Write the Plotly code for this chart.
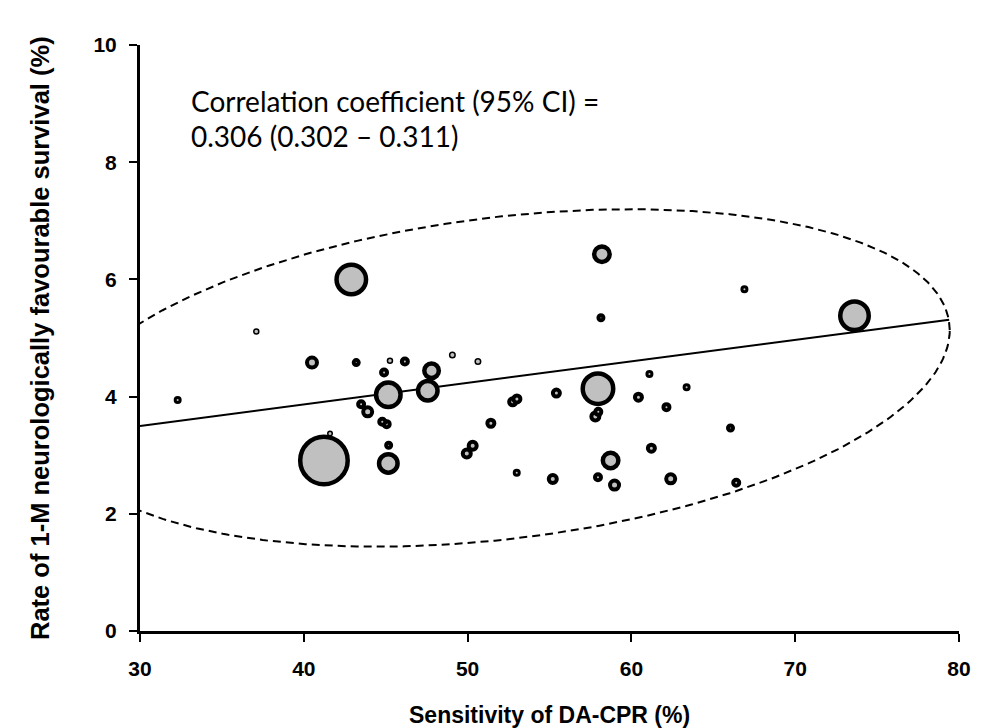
import numpy as np
import plotly.graph_objects as go

# ---- data ----
sensitivity = [32.3, 37.1, 40.5, 43.2, 45.26, 46.17, 44.9, 47.8, 45.16, 47.57,
               43.5, 43.9, 44.79, 45.06, 45.18, 45.16, 41.6, 41.23, 58.14, 49.07,
               50.63, 57.96, 61.1, 63.37, 52.75, 53.01, 55.42, 60.43, 62.14, 57.8,
               57.98, 51.42, 50.31, 49.95, 58.73, 61.22, 53.0, 55.2, 57.96, 58.97,
               62.4, 66.9, 73.62, 66.05, 66.4, 42.9, 58.2]
survival = [3.94, 5.11, 4.58, 4.58, 4.61, 4.60, 4.41, 4.44, 4.03, 4.10,
            3.87, 3.74, 3.57, 3.53, 3.17, 2.86, 3.37, 2.91, 5.345, 4.71,
            4.60, 4.135, 4.385, 4.16, 3.91, 3.96, 4.06, 3.99, 3.82, 3.66,
            3.74, 3.545, 3.16, 3.03, 2.91, 3.12, 2.70, 2.595, 2.625, 2.49,
            2.596, 5.83, 5.38, 3.465, 2.53, 6.0, 6.43]
bubble_size = [8, 6.5, 14, 9, 6.5, 10, 10, 19, 29, 24,
               10, 13, 10, 10, 9, 23, 6, 52, 9, 7,
               7, 35, 8, 8, 11, 11, 11, 11, 10, 12,
               10, 11, 12, 12, 20, 11, 8, 12, 10, 13,
               13, 8, 33, 9, 10, 34, 20]

x_ticks = [30, 40, 50, 60, 70, 80]
y_ticks = [0, 2, 4, 6, 8, 10]

# regression line (value at x=30, slope) and its end
reg_x = [30, 79.4]
reg_intercept = 3.50
reg_slope = 0.0367

# confidence ellipse parameters
ell_cx, ell_ax = 52.2, 27.235
ell_cy, ell_p, ell_q = 4.318, 0.817, 2.761

corr_line1 = "Correlation coefficient (95% CI) ="
corr_line2 = "0.306 (0.302 \u2013 0.311)"

# ---- styling derived ----
def line_w(d):
    if d <= 7:
        return 1.5
    if d <= 8.5:
        return 3
    if d < 18:
        return 4
    return 4.5

lws = [line_w(d) for d in bubble_size]
msz = [d - w for d, w in zip(bubble_size, lws)]

fig = go.Figure()

t = np.linspace(0, 2 * np.pi, 400)
ex = ell_cx + ell_ax * np.cos(t)
ey = ell_cy + ell_p * np.cos(t) + ell_q * np.sin(t)
fig.add_trace(go.Scatter(x=ex, y=ey, mode="lines",
                         line=dict(color="black", width=2, dash="8px,5px"),
                         hoverinfo="skip", showlegend=False))

reg_y = [reg_intercept + reg_slope * (xx - 30) for xx in reg_x]
fig.add_trace(go.Scatter(x=reg_x, y=reg_y, mode="lines",
                         line=dict(color="black", width=2),
                         showlegend=False))

order = np.argsort(bubble_size)[::-1]
fig.add_trace(go.Scatter(
    x=[sensitivity[i] for i in order], y=[survival[i] for i in order],
    mode="markers",
    marker=dict(size=[msz[i] for i in order], color="#C0C0C0",
                line=dict(color="black", width=[lws[i] for i in order]),
                opacity=1),
    showlegend=False, cliponaxis=False))

fig.add_annotation(x=(190 - 140) / 828, y=1.0 - (101 - 45) / 586, xref="paper", yref="paper",
                   text=corr_line1,
                   showarrow=False, xanchor="left", yanchor="middle",
                   font=dict(family="Lato", size=28, color="black"))
fig.add_annotation(x=(190 - 140) / 828, y=1.0 - (136 - 45) / 586, xref="paper", yref="paper",
                   text=corr_line2,
                   showarrow=False, xanchor="left", yanchor="middle",
                   font=dict(family="Lato", size=28, color="black"))

fig.add_annotation(x=0.5, y=0, xref="paper", yref="paper",
                   text="<b>Sensitivity of DA-CPR (%)</b>", showarrow=False,
                   yshift=-84, yanchor="middle", xanchor="center",
                   font=dict(family="Liberation Sans", size=23, color="black"))
fig.add_annotation(x=0, y=0.5, xref="paper", yref="paper",
                   text="<b>Rate of 1-M neurologically favourable survival (%)</b>",
                   showarrow=False, textangle=-90, xshift=-100,
                   xanchor="center", yanchor="middle",
                   font=dict(family="Liberation Sans", size=25.5, color="black"))

axis_common = dict(showgrid=False, zeroline=False, showline=True, linecolor="black",
                   linewidth=3, ticks="outside", ticklen=8, tickwidth=2,
                   tickcolor="black",
                   tickfont=dict(family="Liberation Sans", size=21, color="black",
                                 weight="bold"))
fig.update_xaxes(range=[30, 80], tickvals=x_ticks, ticktext=[str(v) for v in x_ticks],
                 ticklabelstandoff=9, **axis_common)
fig.update_yaxes(range=[0, 10], tickvals=y_ticks, ticktext=[str(v) for v in y_ticks],
                 ticklabelstandoff=8, **axis_common)

fig.update_layout(width=983, height=728, margin=dict(l=140, r=15, t=45, b=97),
                  plot_bgcolor="white", paper_bgcolor="white", showlegend=False)

fig.write_html("out.html", config={"displayModeBar": False},
               post_script="document.body.style.margin='0px';document.body.style.overflow='hidden';")
